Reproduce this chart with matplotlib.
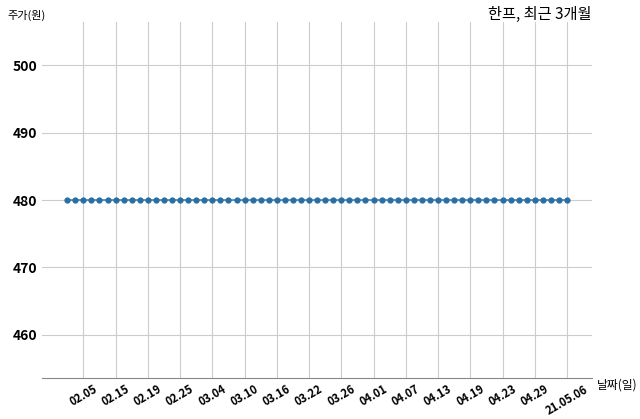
import matplotlib
matplotlib.use('Agg')
import matplotlib.pyplot as plt

plt.rcParams['font.family'] = ['Noto Sans CJK KR', 'DejaVu Sans']

dates = ['21.02.03', '21.02.04', '21.02.05', '21.02.08', '21.02.09', '21.02.10',
         '21.02.15', '21.02.16', '21.02.17', '21.02.18', '21.02.19', '21.02.22',
         '21.02.23', '21.02.24', '21.02.25', '21.02.26',
         '21.03.02', '21.03.03', '21.03.04', '21.03.05', '21.03.08', '21.03.09',
         '21.03.10', '21.03.11', '21.03.12', '21.03.15', '21.03.16', '21.03.17',
         '21.03.18', '21.03.19', '21.03.22', '21.03.23', '21.03.24', '21.03.25',
         '21.03.26', '21.03.29', '21.03.30', '21.03.31',
         '21.04.01', '21.04.02', '21.04.05', '21.04.06', '21.04.07', '21.04.08',
         '21.04.09', '21.04.12', '21.04.13', '21.04.14', '21.04.15', '21.04.16',
         '21.04.19', '21.04.20', '21.04.21', '21.04.22', '21.04.23', '21.04.26',
         '21.04.27', '21.04.28', '21.04.29', '21.04.30',
         '21.05.03', '21.05.04', '21.05.06']

prices = [480, 480, 480, 480, 480, 480, 480, 480, 480, 480, 480, 480, 480, 480,
          480, 480, 480, 480, 480, 480, 480, 480, 480, 480, 480, 480, 480, 480,
          480, 480, 480, 480, 480, 480, 480, 480, 480, 480, 480, 480, 480, 480,
          480, 480, 480, 480, 480, 480, 480, 480, 480, 480, 480, 480, 480, 480,
          480, 480, 480, 480, 480, 480, 480]

tick_idx = [2, 6, 10, 14, 18, 22, 26, 30, 34, 38, 42, 46, 50, 54, 58, 62]
tick_labels = [dates[i][3:] for i in tick_idx]
tick_labels[-1] = dates[tick_idx[-1]]

fig = plt.figure(figsize=(6.4, 4.19), dpi=100)
ax = fig.add_axes([0.066, 0.098, 0.859, 0.849])

xs = list(range(len(prices)))
ax.plot(xs, prices, color='#3f88bd', marker='o', markersize=3.5,
        markerfacecolor='#2a6fa3', markeredgecolor='#2a6fa3', linewidth=1.2)

ax.set_ylim(453.6, 506.4)
ax.set_yticks([460, 470, 480, 490, 500])
ax.set_xticks(tick_idx)
ax.set_xticklabels(tick_labels, rotation=30, fontsize=8, fontweight='bold')
for lab in ax.get_yticklabels():
    lab.set_fontweight('bold')
    lab.set_fontsize(10)

ax.grid(True, color='#cccccc', linewidth=0.8)
ax.tick_params(length=0)
for side in ['left', 'right', 'top']:
    ax.spines[side].set_visible(False)
ax.spines['bottom'].set_color('#888888')

fig.text(0.925, 0.965, '한프, 최근 3개월', ha='right', va='center', fontsize=11)
fig.text(0.012, 0.962, '주가(원)', ha='left', va='center', fontsize=8)
fig.text(0.932, 0.08, '날짜(일)', ha='left', va='center', fontsize=8.5)

fig.savefig('out.png', dpi=100)
